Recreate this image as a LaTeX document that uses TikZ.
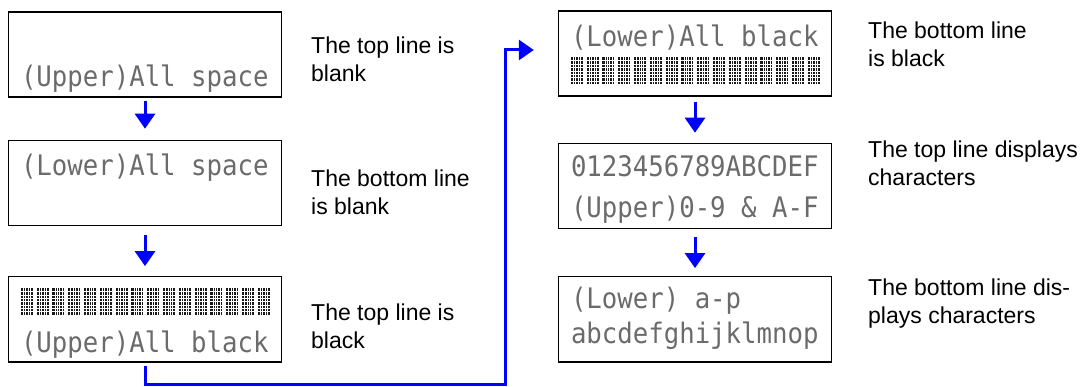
\documentclass[tikz,border=0pt]{standalone}
\usepackage{fontspec}
\usepackage{graphicx}
\setmainfont{Liberation Sans}
\newfontfamily\lcdfont{DejaVu Sans Mono}
\usetikzlibrary{arrows.meta, positioning, calc}
\definecolor{flowblue}{RGB}{0,0,255}
\definecolor{lcdink}{gray}{0.42}
\tikzset{
  lcd/.style      = {rectangle, draw, line width=1.4pt, minimum width=273pt,
                     minimum height=85pt, inner sep=0pt},
  lcdtext/.style  = {anchor=base west, inner sep=0pt, text=lcdink,
                     font=\lcdfont\fontsize{25.7}{30}\selectfont},
  note/.style     = {anchor=north west, inner sep=0pt, align=left,
                     font=\fontsize{23}{28.5}\selectfont},
  flow/.style     = {-{Triangle[width=20pt,length=15pt]}, line width=3pt,
                     color=flowblue},
  cellink/.style  = {fill=black!90},
  celldot/.style  = {draw=white, line width=0.5pt},
}
% stretched LCD row
\newcommand{\lcdrow}[1]{\scalebox{1}[1.1]{#1}}
% sixteen all-black cells: node, top offset
\newcommand{\lcdblocks}[2]{%
  \foreach \k in {0,...,15}{%
    \coordinate (cell) at ($(#1.north west)+(13+\k*15.8,#2)$);
    \fill[cellink] (cell) rectangle ++(12,27);
    \foreach \u in {1,...,4} \draw[celldot] ($(cell)+(\u*2.4,0)$) -- ++(0,27);
    \foreach \v in {1,...,7} \draw[celldot] ($(cell)+(0,\v*3.375)$) -- ++(12,0);
  }}

\begin{document}
\begin{tikzpicture}[x=1pt, y=-1pt]
  \useasboundingbox (0,0) rectangle (1087,387);

  % left column
  \node[lcd] (lcd1) at (145,54.5) {};
  \node[lcd, below=42pt of lcd1] (lcd2) {};
  \node[lcd, below=50pt of lcd2] (lcd3) {};
  % right column
  \node[lcd] (lcd4) at (695,53.5) {};
  \node[lcd, below=46pt of lcd4] (lcd5) {};
  \node[lcd, below=47pt of lcd5] (lcd6) {};

  \node[lcdtext] (row1b) at ($(lcd1.north west)+(13,75)$) {\lcdrow{(Upper)All space}};
  \node[lcdtext] (row2a) at ($(lcd2.north west)+(13,36)$) {\lcdrow{(Lower)All space}};
  \lcdblocks{lcd3}{12}
  \node[lcdtext] (row3b) at ($(lcd3.north west)+(13,76)$) {\lcdrow{(Upper)All black}};
  \node[lcdtext] (row4a) at ($(lcd4.north west)+(13,36)$) {\lcdrow{(Lower)All black}};
  \lcdblocks{lcd4}{47}
  \node[lcdtext] (row5a) at ($(lcd5.north west)+(13,34)$) {\lcdrow{0123456789ABCDEF}};
  \node[lcdtext] (row5b) at ($(lcd5.north west)+(13,75)$) {\lcdrow{(Upper)0-9 \& A-F}};
  \node[lcdtext] (row6a) at ($(lcd6.north west)+(13,32)$) {\lcdrow{(Lower) a-p}};
  \node[lcdtext] (row6b) at ($(lcd6.north west)+(13,67)$) {\lcdrow{abcdefghijklmnop}};

  \node[note] (note1) at (311,36.3) {The top line is\\blank};
  \node[note] (note2) at (311,169.3) {The bottom line\\is blank};
  \node[note] (note3) at (311,303.3) {The top line is\\black};
  \node[note] (note4) at (868,21.3) {The bottom line\\is black};
  \node[note] (note5) at (868,140.3) {The top line displays\\characters};
  \node[note] (note6) at (868,278.3) {The bottom line dis-\\plays characters};

  \draw[flow, shorten <=3pt, shorten >=11pt] (lcd1) -- (lcd2);
  \draw[flow, shorten <=9pt, shorten >=10pt] (lcd2) -- (lcd3);
  \coordinate (bend) at (505,384);
  \draw[flow, shorten <=3pt, shorten >=24pt] (lcd3.south) |- (bend) |- ([yshift=3.5pt]lcd4.west);
  \draw[flow, shorten <=5pt, shorten >=10pt] (lcd4) -- (lcd5);
  \draw[flow, shorten <=8pt, shorten >=8pt] (lcd5) -- (lcd6);
\end{tikzpicture}
\end{document}
